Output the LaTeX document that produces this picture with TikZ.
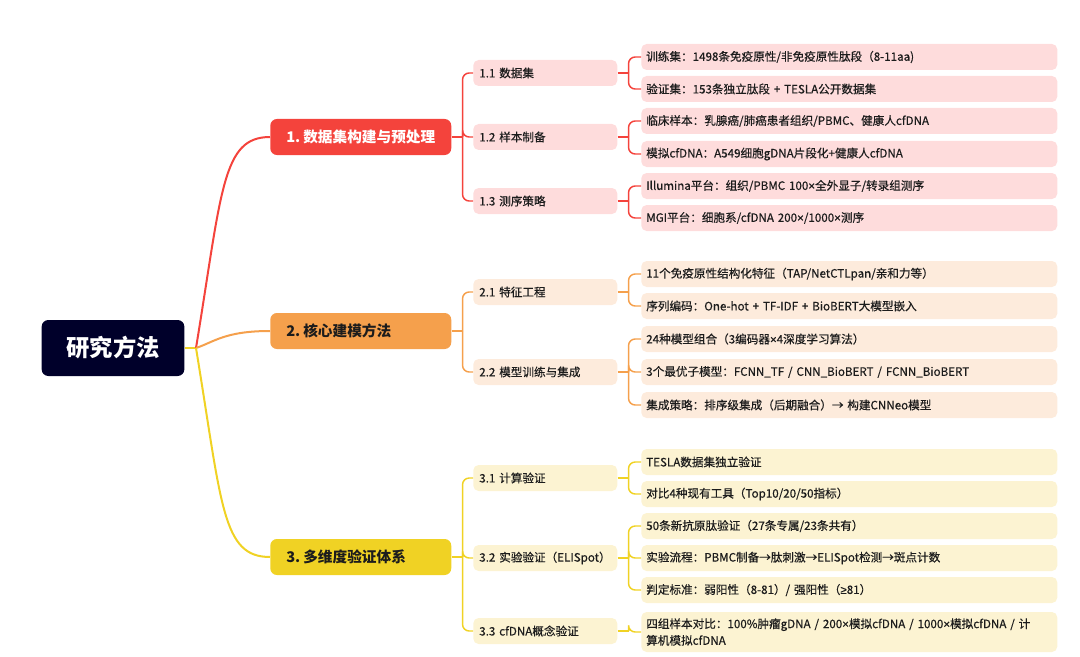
\documentclass[tikz,border=0pt]{standalone}
\usepackage{fontspec}
\setmainfont{Noto Sans CJK SC}
\newfontfamily\leaffont{Noto Sans CJK SC}[FakeBold=0.5]
\newfontfamily\narrowsym{Liberation Sans}[FakeBold=0.5]
\newcommand{\tms}{{\narrowsym ×}}
\newcommand{\geqsym}{{\narrowsym ≥}}
\usetikzlibrary{positioning}
\definecolor{rootnavy}{HTML}{00002A}
\definecolor{datared}{HTML}{F4433C}
\definecolor{datapale}{HTML}{FEDCDC}
\definecolor{modelorange}{HTML}{F5A04C}
\definecolor{modelpale}{HTML}{FDEBDC}
\definecolor{checkyellow}{HTML}{F0D224}
\definecolor{checkpale}{HTML}{FCF3D2}
\definecolor{ink}{HTML}{1C1C1C}

\tikzset{
  rootbox/.style={fill=rootnavy, text=white, rounded corners=5pt,
    minimum width=107pt, minimum height=42pt,
    font=\fontsize{17.5}{20}\selectfont\bfseries},
  topicbox/.style={anchor=west, rounded corners=5pt, inner xsep=8pt,
    text width=119.75pt, minimum height=27pt, align=left,
    font=\fontsize{11}{13}\selectfont\bfseries},
  subbox/.style={anchor=west, rounded corners=4pt, inner xsep=4.5pt,
    text width=99pt, minimum height=19.5pt, align=left, text=ink,
    font=\leaffont\fontsize{8.7}{11}\selectfont},
  leafbox/.style={anchor=west, rounded corners=4pt, inner xsep=3.75pt,
    text width=304.5pt, minimum height=19.5pt, align=left, text=ink,
    font=\leaffont\fontsize{8.7}{12.5}\selectfont},
  trunk/.style={line width=1.5pt},
  twig/.style={line width=1.1pt, rounded corners=5pt}
}

\begin{document}
\begin{tikzpicture}[x=0.75pt, y=-0.75pt]
  \useasboundingbox (0,0) rectangle (1080,656);

  % root and main topics
  \node[rootbox] (root) at (113,348) {研究方法};
  \node[topicbox, fill=datared, text=white] (t1) at (270,137) {\hspace{4pt}1.\hspace{0.2em}数据集构建与预处理};
  \node[topicbox, fill=modelorange, text=ink] (t2) at (270,331) {\hspace{4pt}2.\hspace{0.2em}核心建模方法};
  \node[topicbox, fill=checkyellow, text=ink] (t3) at (270,557) {\hspace{4pt}3.\hspace{0.2em}多维度验证体系};

  % sub topics
  \node[subbox, fill=datapale] (s11) at (473,73) {1.1 数据集};
  \node[subbox, fill=datapale] (s12) at (473,137) {1.2 样本制备};
  \node[subbox, fill=datapale] (s13) at (473,201) {1.3 测序策略};
  \node[subbox, fill=modelpale] (s21) at (473,292) {2.1 特征工程};
  \node[subbox, fill=modelpale] (s22) at (473,372) {2.2 模型训练与集成};
  \node[subbox, fill=checkpale] (s31) at (473,478) {3.1 计算验证};
  \node[subbox, fill=checkpale] (s32) at (473,558) {3.2 实验验证（ELISpot）};
  \node[subbox, fill=checkpale] (s33) at (473,631) {3.3 cfDNA概念验证};

  % leaves
  \node[leafbox, fill=datapale] (l1) at (641,57) {训练集：1498条免疫原性/非免疫原性肽段（8-11aa)};
  \node[leafbox, fill=datapale] (l2) at (641,89) {验证集：153条独立肽段 + TESLA公开数据集};
  \node[leafbox, fill=datapale] (l3) at (641,121) {临床样本：乳腺癌/肺癌患者组织/PBMC、健康人cfDNA};
  \node[leafbox, fill=datapale] (l4) at (641,154) {模拟cfDNA：A549细胞gDNA片段化+健康人cfDNA};
  \node[leafbox, fill=datapale] (l5) at (641,186) {Illumina平台：组织/PBMC 100\tms 全外显子/转录组测序};
  \node[leafbox, fill=datapale] (l6) at (641,218) {MGI平台：细胞系/cfDNA 200\tms/1000\tms 测序};
  \node[leafbox, fill=modelpale] (l7) at (641,274) {11个免疫原性结构化特征（TAP/NetCTLpan/亲和力等）};
  \node[leafbox, fill=modelpale] (l8) at (641,306) {序列编码：One-hot + TF-IDF + BioBERT大模型嵌入};
  \node[leafbox, fill=modelpale] (l9) at (641,339) {24种模型组合（3编码器\tms 4深度学习算法）};
  \node[leafbox, fill=modelpale] (l10) at (641,372) {3个最优子模型：FCNN\_TF / CNN\_BioBERT / FCNN\_BioBERT};
  \node[leafbox, fill=modelpale] (l11) at (641,405) {集成策略：排序级集成（后期融合）→ 构建CNNeo模型};
  \node[leafbox, fill=checkpale] (l12) at (641,462) {TESLA数据集独立验证};
  \node[leafbox, fill=checkpale] (l13) at (641,494) {对比4种现有工具（Top10/20/50指标）};
  \node[leafbox, fill=checkpale] (l14) at (641,526) {50条新抗原肽验证（27条专属/23条共有）};
  \node[leafbox, fill=checkpale] (l15) at (641,558) {实验流程：PBMC制备→肽刺激→ELISpot检测→斑点计数};
  \node[leafbox, fill=checkpale] (l16) at (641,590) {判定标准：弱阳性（8-81）/ 强阳性（\geqsym 81）};
  \node[leafbox, fill=checkpale, minimum height=30pt] (l17) at (641,632)
    {四组样本对比：100\%肿瘤gDNA / 200\tms 模拟cfDNA / 1000\tms 模拟cfDNA / 计\\算机模拟cfDNA};

  % trunk curves
  \coordinate (hub) at (196,348);
  \draw[trunk, checkyellow] (root.east) -- (hub);
  \draw[trunk, datared] (hub) .. controls +(26,-158) and +(-48,0) .. (t1.west);
  \draw[trunk, modelorange] (hub) .. controls +(18,-6) and +(-45,0) .. (t2.west);
  \draw[trunk, checkyellow] (hub) .. controls +(26,158) and +(-48,0) .. (t3.west);

  % brackets from topics to sub topics
  \draw[twig, datared] (t1.east) -- ++(11,0) coordinate (b1);
  \foreach \c in {s11,s12,s13} \draw[twig, datared] (b1) |- (\c.west);
  \draw[twig, modelorange] (t2.east) -- ++(11,0) coordinate (b2);
  \foreach \c in {s21,s22} \draw[twig, modelorange] (b2) |- (\c.west);
  \draw[twig, checkyellow] (t3.east) -- ++(11,0) coordinate (b3);
  \foreach \c in {s31,s32,s33} \draw[twig, checkyellow] (b3) |- (\c.west);

  % brackets from sub topics to leaves
  \foreach \s/\kids/\col in {s11/{l1,l2}/datared, s12/{l3,l4}/datared, s13/{l5,l6}/datared,
      s21/{l7,l8}/modelorange, s22/{l9,l10,l11}/modelorange,
      s31/{l12,l13}/checkyellow, s32/{l14,l15,l16}/checkyellow, s33/{l17}/checkyellow} {
    \draw[twig, \col] (\s.east) -- ++(11,0) coordinate (k);
    \foreach \c in \kids \draw[twig, \col] (k) |- (\c.west);
  }
\end{tikzpicture}
\end{document}
